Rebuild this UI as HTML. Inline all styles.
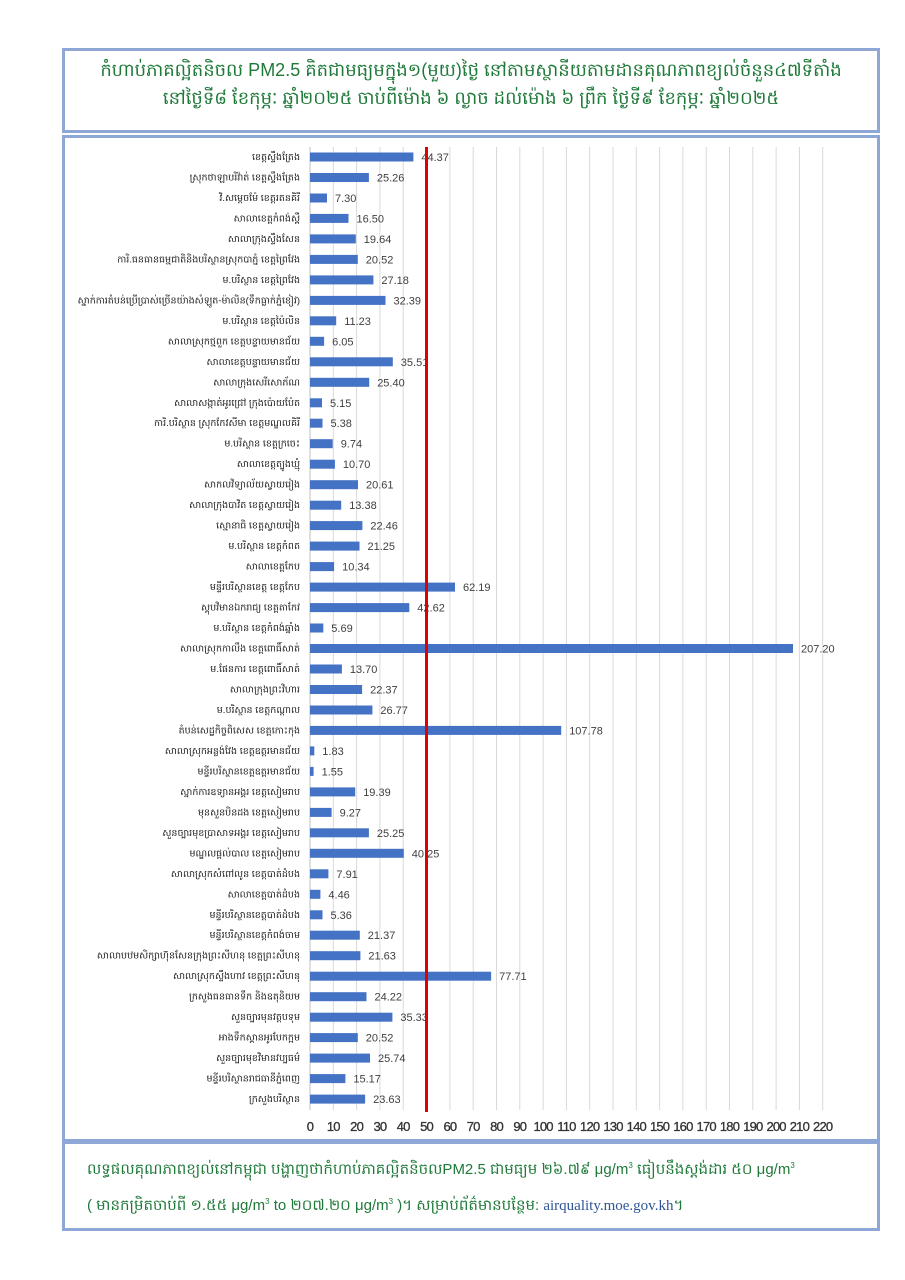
<!DOCTYPE html>
<html><head><meta charset="utf-8"><style>
body{margin:0;background:#fff;width:905px;height:1280px;position:relative;font-family:"Liberation Sans","Noto Sans CJK SC",sans-serif}
.box{position:absolute;left:62px;width:812px;border:3px solid #8fa7d6;box-sizing:content-box}
.t{color:#1f7a3a;text-align:center}
</style></head><body>
<div class="box t" style="top:48px;height:74px;font-size:18px;line-height:28px;padding-top:5px">កំហាប់ភាគល្អិតនិចល PM2.5 គិតជាមធ្យមក្នុង១(មួយ)ថ្ងៃ នៅតាមស្ថានីយតាមដានគុណភាពខ្យល់ចំនួន៤៧ទីតាំង<br>នៅថ្ងៃទី៨ ខែកុម្ភៈ ឆ្នាំ២០២៥ ចាប់ពីម៉ោង ៦ ល្ងាច ដល់ម៉ោង ៦ ព្រឹក ថ្ងៃទី៩ ខែកុម្ភៈ ឆ្នាំ២០២៥</div>
<div class="box" style="top:135px;height:1001px"></div>
<div class="box t" style="top:1141px;height:78px;font-size:15px;line-height:32px;padding-top:6px;text-align:left"><div style="padding-left:22px">លទ្ធផលគុណភាពខ្យល់នៅកម្ពុជា បង្ហាញថាកំហាប់ភាគល្អិតនិចលPM2.5 ជាមធ្យម ២៦.៧៩ μg/m<sup style="font-size:8px">3</sup> ធៀបនឹងស្តង់ដារ ៥០ μg/m<sup style="font-size:8px">3</sup><br>( មានកម្រិតចាប់ពី ១.៥៥ μg/m<sup style="font-size:8px">3</sup> to ២០៧.២០ μg/m<sup style="font-size:8px">3</sup> )។ សម្រាប់ព័ត៌មានបន្ថែម: <span style="color:#2f5597;font-family:'Liberation Serif',serif">airquality.moe.gov.kh</span>។</div></div>
<svg style="position:absolute;left:0;top:0" width="905" height="1280">
<g stroke="#d9d9d9" stroke-width="1">
<line x1="333.3" y1="147" x2="333.3" y2="1110"/><line x1="356.6" y1="147" x2="356.6" y2="1110"/><line x1="379.9" y1="147" x2="379.9" y2="1110"/><line x1="403.2" y1="147" x2="403.2" y2="1110"/><line x1="449.9" y1="147" x2="449.9" y2="1110"/><line x1="473.2" y1="147" x2="473.2" y2="1110"/><line x1="496.5" y1="147" x2="496.5" y2="1110"/><line x1="519.8" y1="147" x2="519.8" y2="1110"/><line x1="543.1" y1="147" x2="543.1" y2="1110"/><line x1="566.4" y1="147" x2="566.4" y2="1110"/><line x1="589.7" y1="147" x2="589.7" y2="1110"/><line x1="613" y1="147" x2="613" y2="1110"/><line x1="636.3" y1="147" x2="636.3" y2="1110"/><line x1="659.6" y1="147" x2="659.6" y2="1110"/><line x1="682.9" y1="147" x2="682.9" y2="1110"/><line x1="706.2" y1="147" x2="706.2" y2="1110"/><line x1="729.5" y1="147" x2="729.5" y2="1110"/><line x1="752.8" y1="147" x2="752.8" y2="1110"/><line x1="776.1" y1="147" x2="776.1" y2="1110"/><line x1="799.4" y1="147" x2="799.4" y2="1110"/><line x1="822.7" y1="147" x2="822.7" y2="1110"/>
</g>
<line x1="310" y1="147" x2="310" y2="1110" stroke="#bfbfbf"/>
<g fill="#4472c4">
<rect x="310" y="152.5" width="103.4" height="9"/><rect x="310" y="173" width="58.9" height="9"/><rect x="310" y="193.5" width="17" height="9"/><rect x="310" y="213.9" width="38.5" height="9"/><rect x="310" y="234.4" width="45.8" height="9"/><rect x="310" y="254.9" width="47.8" height="9"/><rect x="310" y="275.4" width="63.4" height="9"/><rect x="310" y="295.9" width="75.5" height="9"/><rect x="310" y="316.3" width="26.2" height="9"/><rect x="310" y="336.8" width="14.1" height="9"/><rect x="310" y="357.3" width="82.8" height="9"/><rect x="310" y="377.8" width="59.2" height="9"/><rect x="310" y="398.3" width="12" height="9"/><rect x="310" y="418.7" width="12.5" height="9"/><rect x="310" y="439.2" width="22.7" height="9"/><rect x="310" y="459.7" width="24.9" height="9"/><rect x="310" y="480.2" width="48" height="9"/><rect x="310" y="500.7" width="31.2" height="9"/><rect x="310" y="521.1" width="52.4" height="9"/><rect x="310" y="541.6" width="49.5" height="9"/><rect x="310" y="562.1" width="24.1" height="9"/><rect x="310" y="582.6" width="145" height="9"/><rect x="310" y="603.1" width="99.3" height="9"/><rect x="310" y="623.5" width="13.3" height="9"/><rect x="310" y="644" width="483" height="9"/><rect x="310" y="664.5" width="31.9" height="9"/><rect x="310" y="685" width="52.1" height="9"/><rect x="310" y="705.5" width="62.4" height="9"/><rect x="310" y="725.9" width="251.2" height="9"/><rect x="310" y="746.4" width="4.3" height="9"/><rect x="310" y="766.9" width="3.6" height="9"/><rect x="310" y="787.4" width="45.2" height="9"/><rect x="310" y="807.9" width="21.6" height="9"/><rect x="310" y="828.3" width="58.9" height="9"/><rect x="310" y="848.8" width="93.8" height="9"/><rect x="310" y="869.3" width="18.4" height="9"/><rect x="310" y="889.8" width="10.4" height="9"/><rect x="310" y="910.3" width="12.5" height="9"/><rect x="310" y="930.7" width="49.8" height="9"/><rect x="310" y="951.2" width="50.4" height="9"/><rect x="310" y="971.7" width="181.1" height="9"/><rect x="310" y="992.2" width="56.5" height="9"/><rect x="310" y="1012.7" width="82.4" height="9"/><rect x="310" y="1033.1" width="47.8" height="9"/><rect x="310" y="1053.6" width="60" height="9"/><rect x="310" y="1074.1" width="35.4" height="9"/><rect x="310" y="1094.6" width="55.1" height="9"/>
</g>
<g font-size="11" fill="#404040" font-family="Liberation Sans, sans-serif">
<text x="421.4" y="161">44.37</text><text x="376.9" y="181.5">25.26</text><text x="335" y="202">7.30</text><text x="356.5" y="222.4">16.50</text><text x="363.8" y="242.9">19.64</text><text x="365.8" y="263.4">20.52</text><text x="381.4" y="283.9">27.18</text><text x="393.5" y="304.4">32.39</text><text x="344.2" y="324.8">11.23</text><text x="332.1" y="345.3">6.05</text><text x="400.8" y="365.8">35.51</text><text x="377.2" y="386.3">25.40</text><text x="330" y="406.8">5.15</text><text x="330.5" y="427.2">5.38</text><text x="340.7" y="447.7">9.74</text><text x="342.9" y="468.2">10.70</text><text x="366" y="488.7">20.61</text><text x="349.2" y="509.2">13.38</text><text x="370.4" y="529.6">22.46</text><text x="367.5" y="550.1">21.25</text><text x="342.1" y="570.6">10.34</text><text x="463" y="591.1">62.19</text><text x="417.3" y="611.6">42.62</text><text x="331.3" y="632">5.69</text><text x="801" y="652.5">207.20</text><text x="349.9" y="673">13.70</text><text x="370.1" y="693.5">22.37</text><text x="380.4" y="714">26.77</text><text x="569.2" y="734.4">107.78</text><text x="322.3" y="754.9">1.83</text><text x="321.6" y="775.4">1.55</text><text x="363.2" y="795.9">19.39</text><text x="339.6" y="816.4">9.27</text><text x="376.9" y="836.8">25.25</text><text x="411.8" y="857.3">40.25</text><text x="336.4" y="877.8">7.91</text><text x="328.4" y="898.3">4.46</text><text x="330.5" y="918.8">5.36</text><text x="367.8" y="939.2">21.37</text><text x="368.4" y="959.7">21.63</text><text x="499.1" y="980.2">77.71</text><text x="374.5" y="1000.7">24.22</text><text x="400.4" y="1021.2">35.33</text><text x="365.8" y="1041.6">20.52</text><text x="378" y="1062.1">25.74</text><text x="353.4" y="1082.6">15.17</text><text x="373.1" y="1103.1">23.63</text>
</g>
<line x1="426.5" y1="147" x2="426.5" y2="1112" stroke="#e00000" stroke-width="3"/>
<g font-size="9.5" fill="#222" text-anchor="end" font-family="Liberation Sans, Noto Sans CJK SC, sans-serif">
<text x="300" y="160">ខេត្តស្ទឹងត្រែង</text><text x="300" y="180.5">ស្រុកថាឡាបរិវ៉ាត់ ខេត្តស្ទឹងត្រែង</text><text x="300" y="201">វិ.សម្តេចម៉ែ ខេត្តរតនគិរី</text><text x="300" y="221.4">សាលាខេត្តកំពង់ស្ពឺ</text><text x="300" y="241.9">សាលាក្រុងស្ទឹងសែន</text><text x="300" y="262.4">ការិ.ធនធានធម្មជាតិនិងបរិស្ថានស្រុកបាភ្នំ ខេត្តព្រៃវែង</text><text x="300" y="282.9">ម.បរិស្ថាន ខេត្តព្រៃវែង</text><text x="300" y="303.4">ស្នាក់ការតំបន់ប្រើប្រាស់ច្រើនយ៉ាងសំឡូត-ម៉ាលិន(ទឹកធ្លាក់ភ្នំខៀវ)</text><text x="300" y="323.8">ម.បរិស្ថាន ខេត្តប៉ៃលិន</text><text x="300" y="344.3">សាលាស្រុកថ្មពួក ខេត្តបន្ទាយមានជ័យ</text><text x="300" y="364.8">សាលាខេត្តបន្ទាយមានជ័យ</text><text x="300" y="385.3">សាលាក្រុងសេរីសោភ័ណ</text><text x="300" y="405.8">សាលាសង្កាត់អូរជ្រៅ ក្រុងប៉ោយប៉ែត</text><text x="300" y="426.2">ការិ.បរិស្ថាន ស្រុកកែវសីមា ខេត្តមណ្ឌលគិរី</text><text x="300" y="446.7">ម.បរិស្ថាន ខេត្តក្រចេះ</text><text x="300" y="467.2">សាលាខេត្តត្បូងឃ្មុំ</text><text x="300" y="487.7">សាកលវិទ្យាល័យស្វាយរៀង</text><text x="300" y="508.2">សាលាក្រុងបាវិត ខេត្តស្វាយរៀង</text><text x="300" y="528.6">ស្មោនាធិ ខេត្តស្វាយរៀង</text><text x="300" y="549.1">ម.បរិស្ថាន ខេត្តកំពត</text><text x="300" y="569.6">សាលាខេត្តកែប</text><text x="300" y="590.1">មន្ទីរបរិស្ថានខេត្ត ខេត្តកែប</text><text x="300" y="610.6">ស្តុបវិមានឯករាជ្យ ខេត្តតាកែវ</text><text x="300" y="631">ម.បរិស្ថាន ខេត្តកំពង់ឆ្នាំង</text><text x="300" y="651.5">សាលាស្រុកកាលឹង ខេត្តពោធិ៍សាត់</text><text x="300" y="672">ម.ផែនការ ខេត្តពោធិ៍សាត់</text><text x="300" y="692.5">សាលាក្រុងព្រះវិហារ</text><text x="300" y="713">ម.បរិស្ថាន ខេត្តកណ្តាល</text><text x="300" y="733.4">តំបន់សេដ្ឋកិច្ចពិសេស ខេត្តកោះកុង</text><text x="300" y="753.9">សាលាស្រុកអន្លង់វែង ខេត្តឧត្តរមានជ័យ</text><text x="300" y="774.4">មន្ទីរបរិស្ថានខេត្តឧត្តរមានជ័យ</text><text x="300" y="794.9">ស្នាក់ការឧទ្យានអង្គរ ខេត្តសៀមរាប</text><text x="300" y="815.4">មុនសួនបិនដង ខេត្តសៀមរាប</text><text x="300" y="835.8">សួនច្បារមុខប្រាសាទអង្គរ ខេត្តសៀមរាប</text><text x="300" y="856.3">មណ្ឌលផ្តល់បាល ខេត្តសៀមរាប</text><text x="300" y="876.8">សាលាស្រុកសំពៅលូន ខេត្តបាត់ដំបង</text><text x="300" y="897.3">សាលាខេត្តបាត់ដំបង</text><text x="300" y="917.8">មន្ទីរបរិស្ថានខេត្តបាត់ដំបង</text><text x="300" y="938.2">មន្ទីរបរិស្ថានខេត្តកំពង់ចាម</text><text x="300" y="958.7">សាលាបឋមសិក្សាហ៊ុនសែនក្រុងព្រះសីហនុ ខេត្តព្រះសីហនុ</text><text x="300" y="979.2">សាលាស្រុកស្ទឹងហាវ ខេត្តព្រះសីហនុ</text><text x="300" y="999.7">ក្រសួងធនធានទឹក និងឧតុនិយម</text><text x="300" y="1020.2">សួនច្បារមុនវត្តបទុម</text><text x="300" y="1040.6">អាងទឹកស្ពានអូរបែកក្អម</text><text x="300" y="1061.1">សួនច្បារមុខវិមានវប្បធម៌</text><text x="300" y="1081.6">មន្ទីរបរិស្ថានរាជធានីភ្នំពេញ</text><text x="300" y="1102.1">ក្រសួងបរិស្ថាន</text>
</g>
<g font-size="13" fill="#333" text-anchor="middle" font-family="Liberation Sans, sans-serif" letter-spacing="-0.8" stroke="#333" stroke-width="0.3">
<text x="310" y="1131">0</text><text x="333.3" y="1131">10</text><text x="356.6" y="1131">20</text><text x="379.9" y="1131">30</text><text x="403.2" y="1131">40</text><text x="426.5" y="1131">50</text><text x="449.9" y="1131">60</text><text x="473.2" y="1131">70</text><text x="496.5" y="1131">80</text><text x="519.8" y="1131">90</text><text x="543.1" y="1131">100</text><text x="566.4" y="1131">110</text><text x="589.7" y="1131">120</text><text x="613" y="1131">130</text><text x="636.3" y="1131">140</text><text x="659.6" y="1131">150</text><text x="682.9" y="1131">160</text><text x="706.2" y="1131">170</text><text x="729.5" y="1131">180</text><text x="752.8" y="1131">190</text><text x="776.1" y="1131">200</text><text x="799.4" y="1131">210</text><text x="822.7" y="1131">220</text>
</g>
</svg>
</body></html>
